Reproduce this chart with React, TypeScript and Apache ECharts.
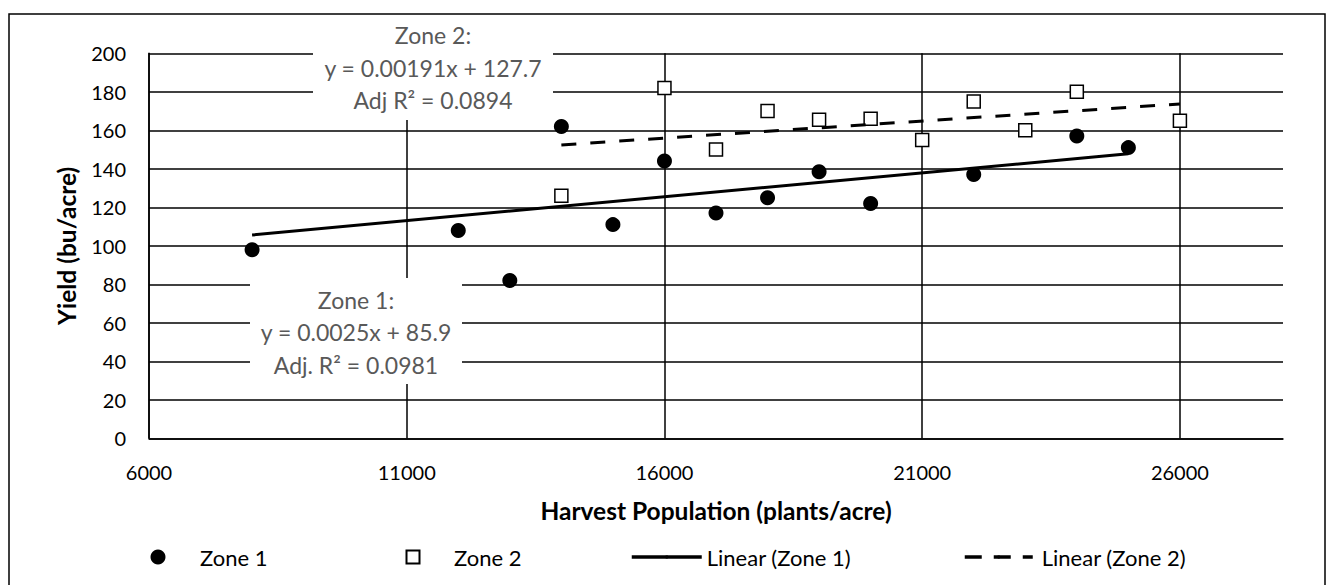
import React, { useEffect, useRef } from "react";
import * as echarts from "echarts";

const zone1X = [8000, 12000, 13000, 14000, 15000, 16000, 17000, 18000, 19000, 20000, 22000, 24000, 25000];
const zone1Y = [98, 108, 82, 162, 111, 144, 117, 125, 138.5, 122, 137, 157, 151];
const zone2X = [14000, 16000, 17000, 18000, 19000, 20000, 21000, 22000, 23000, 24000, 26000];
const zone2Y = [126, 182, 150, 170, 165.5, 166, 155, 175, 160, 180, 165];
const trend1X = [8000, 25000];
const trend1Y = [105.6, 147.8];
const trend2X = [14000, 26000];
const trend2Y = [152.4, 173.7];
const xTickValues = [6000, 11000, 16000, 21000, 26000];
const seriesNames = ["Zone 1", "Zone 2", "Linear (Zone 1)", "Linear (Zone 2)"];
const zone1Note = ["Zone 1:", "y = 0.0025x + 85.9", "Adj. R\u00B2 = 0.0981"];
const zone2Note = ["Zone 2:", "y = 0.00191x + 127.7", "Adj R\u00B2 = 0.0894"];

const FONT = "Lato, 'Open Sans', sans-serif";

const pairs = (xs: number[], ys: number[]) => xs.map((x, i) => [x, ys[i]]);

export default function App() {
  const ref = useRef<HTMLDivElement>(null);
  useEffect(() => {
    if (!ref.current) return;
    const chart = echarts.init(ref.current, null, { renderer: "svg" });
    const lineCol = "#000";
    const legendText = (padLeft: number) => ({
      fontFamily: FONT,
      fontSize: 22,
      lineHeight: 24,
      color: "#000",
      padding: [0, 0, 0, padLeft],
    });
    const note = (lines: string[], x: number, y: number, lh: number) => ({
      type: "text",
      x,
      y,
      z: 101,
      style: {
        text: lines.join("\n"),
        fill: "#595959",
        font: `23px ${FONT}`,
        align: "center",
        verticalAlign: "middle",
        lineHeight: lh,
      },
    });
    const titleStyle = { fontFamily: FONT, fontSize: 24.5, fontWeight: "bold", color: "#000" };
    chart.setOption({
      animation: false,
      backgroundColor: "#fff",
      grid: { left: 149, top: 53.3, width: 1134, height: 385, containLabel: false },
      xAxis: {
        type: "value",
        min: 6000,
        max: 28000,
        name: "Harvest Population (plants/acre)",
        nameLocation: "middle",
        nameGap: 60,
        nameTextStyle: titleStyle,
        axisLine: { show: true, lineStyle: { color: lineCol, width: 1.5 } },
        axisTick: { show: false, customValues: xTickValues },
        axisLabel: {
          customValues: xTickValues,
          formatter: (v: number) => String(v),
          margin: 24,
          fontFamily: FONT,
          fontSize: 20,
          color: "#000",
        },
        splitLine: { show: true, lineStyle: { color: lineCol, width: 1.5 } },
      },
      yAxis: {
        type: "value",
        min: 0,
        max: 200,
        interval: 20,
        name: "Yield (bu/acre)",
        nameLocation: "middle",
        nameGap: 70,
        nameTextStyle: titleStyle,
        axisLine: { show: true, lineStyle: { color: lineCol, width: 1.5 } },
        axisTick: { show: false },
        axisLabel: { margin: 23, fontFamily: FONT, fontSize: 20, color: "#000" },
        splitLine: { show: true, lineStyle: { color: lineCol, width: 1.5 } },
      },
      legend: [
        {
          data: [{ name: seriesNames[0], icon: "circle" }],
          left: 150.5,
          top: 545,
          padding: 0,
          itemWidth: 15,
          itemHeight: 15,
          textStyle: legendText(29.5),
        },
        {
          data: [{ name: seriesNames[1], icon: "rect" }],
          left: 405.5,
          top: 545,
          padding: 0,
          itemWidth: 13,
          itemHeight: 13,
          textStyle: legendText(29.5),
        },
        {
          data: [seriesNames[2]],
          left: 630,
          top: 545,
          padding: 0,
          itemWidth: 70,
          itemHeight: 4,
          lineStyle: { width: 3.5, color: "#000", type: "solid" },
          textStyle: legendText(0),
        },
        {
          data: [seriesNames[3]],
          left: 963,
          top: 545,
          padding: 0,
          itemWidth: 68,
          itemHeight: 4,
          lineStyle: { width: 3.5, color: "#000", type: [17, 12] },
          textStyle: legendText(4),
        },
      ],
      graphic: [
        {
          type: "rect",
          z: 100,
          shape: { x: 9, y: 14, width: 1316, height: 600 },
          style: { fill: "none", stroke: "#000", lineWidth: 1.5 },
          silent: true,
        },
        {
          type: "rect",
          z: 100,
          shape: { x: 250, y: 278, width: 212, height: 106 },
          style: { fill: "#fff" },
        },
        note(zone1Note, 356, 332, 32.5),
        {
          type: "rect",
          z: 100,
          shape: { x: 313, y: 16, width: 240, height: 104 },
          style: { fill: "#fff" },
        },
        note(zone2Note, 433, 67.5, 32.5),
      ],
      series: [
        {
          name: seriesNames[0],
          type: "scatter",
          symbol: "circle",
          symbolSize: 15,
          itemStyle: { color: "#000", opacity: 1 },
          data: pairs(zone1X, zone1Y),
          z: 3,
        },
        {
          name: seriesNames[1],
          type: "scatter",
          symbol: "rect",
          symbolSize: 13,
          itemStyle: { color: "#fff", borderColor: "#000", borderWidth: 1.5, opacity: 1 },
          data: pairs(zone2X, zone2Y),
          z: 3,
        },
        {
          name: seriesNames[2],
          type: "line",
          symbol: "none",
          lineStyle: { color: "#000", width: 3 },
          itemStyle: { color: "#000" },
          data: pairs(trend1X, trend1Y),
          z: 4,
        },
        {
          name: seriesNames[3],
          type: "line",
          symbol: "none",
          lineStyle: { color: "#000", width: 3, type: [15, 14] },
          itemStyle: { color: "#000" },
          data: pairs(trend2X, trend2Y),
          z: 4,
        },
      ],
    });
    return () => chart.dispose();
  }, []);
  return (
    <div
      ref={ref}
      style={{ position: "absolute", left: 0, top: 0, width: 1333, height: 585, background: "#fff" }}
    />
  );
}
